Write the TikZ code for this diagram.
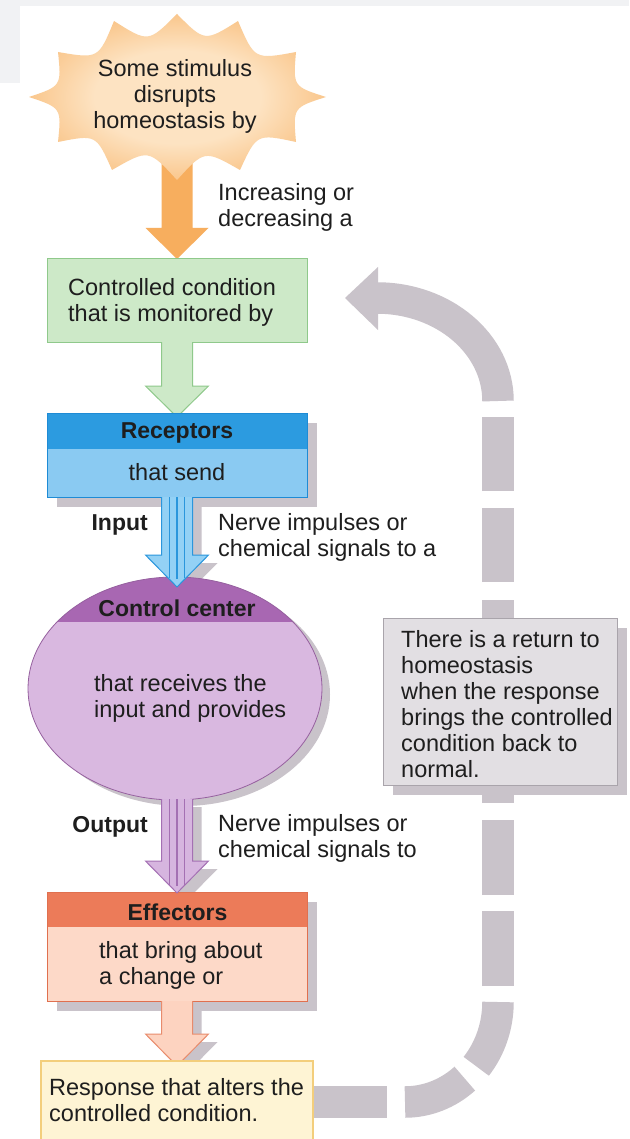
\documentclass[tikz,border=0pt]{standalone}
\usepackage{fontspec}
\setmainfont{Liberation Sans}
\usetikzlibrary{calc}
\definecolor{txtc}{HTML}{1E1E1E}
\definecolor{bgtint}{HTML}{F1F2F4}
\definecolor{shadowc}{HTML}{C9C3CA}
\definecolor{burstin}{HTML}{FDE3C2}
\definecolor{burstout}{HTML}{F5A044}
\definecolor{orangearr}{HTML}{F7AE5E}
\definecolor{greenfill}{HTML}{CDE9C8}
\definecolor{greenline}{HTML}{8FC98B}
\definecolor{rechead}{HTML}{2C9BE0}
\definecolor{recbody}{HTML}{8ACAF2}
\definecolor{recline}{HTML}{1E8BD5}
\definecolor{inarrfill}{HTML}{93D1F5}
\definecolor{inarrline}{HTML}{2A96DC}
\definecolor{cchead}{HTML}{A867B2}
\definecolor{ccbody}{HTML}{D9B8E0}
\definecolor{ccline}{HTML}{96619F}
\definecolor{outarrfill}{HTML}{D6B5DF}
\definecolor{outarrline}{HTML}{A470B3}
\definecolor{effhead}{HTML}{EC7B59}
\definecolor{effbody}{HTML}{FDD9C8}
\definecolor{effline}{HTML}{E0704F}
\definecolor{peachfill}{HTML}{FDD3C0}
\definecolor{peachline}{HTML}{E88B6C}
\definecolor{respfill}{HTML}{FEF4D4}
\definecolor{respline}{HTML}{F3CE7C}
\definecolor{notefill}{HTML}{E2DFE3}
\definecolor{noteline}{HTML}{A9A4AB}
\pgfdeclareradialshading{burstshade}{\pgfpoint{0bp}{0bp}}{color(0bp)=(burstin); color(14bp)=(burstin); color(40bp)=(burstout); color(50bp)=(burstout)}

% block arrow: top y, head y, tip y, fill, line
\newcommand\blkarrow[5]{%
  \fill[#4] (161.5,#1) -- (192.5,#1) -- (192.5,#2) -- (208.5,#2) -- (177,#3) -- (145.5,#2) -- (161.5,#2) -- cycle;
  \draw[#5, line width=1pt] (161.5,#1) -- (161.5,#2) -- (145.5,#2) -- (177,#3) -- (208.5,#2) -- (192.5,#2) -- (192.5,#1);}
\newcommand\blkshadow[3]{%
  \fill[shadowc, shift={(9,8)}] (161.5,#1) -- (192.5,#1) -- (192.5,#2) -- (208.5,#2) -- (177,#3) -- (145.5,#2) -- (161.5,#2) -- cycle;}

\tikzset{
  lbl/.style={font=\fontsize{23.5}{26}\selectfont, text=txtc, inner sep=0pt, align=left},
  lblb/.style={font=\fontsize{23}{26}\selectfont\bfseries, text=txtc, inner sep=0pt},
  band/.style={draw=shadowc, line width=31.5pt},
}

\begin{document}
\begin{tikzpicture}[x=1pt,y=-1pt]
\useasboundingbox (0,0) rectangle (629,1139);
\fill[white] (0,0) rectangle (629,1139);
\fill[bgtint] (0,0) rectangle (629,6);
\fill[bgtint] (0,0) rectangle (20,83);

% feedback loop (dashed grey band)
\begin{scope}[band]
  \draw (300,1102) -- (387,1102);
  \draw (405,1102) arc[start angle=90,end angle=50,x radius=93,y radius=100];
  \draw (498,1002) arc[start angle=0,end angle=40,x radius=93,y radius=100];
  \draw (498,986) -- (498,911);
  \draw (498,895) -- (498,820);
  \draw (498,803) -- (498,600);
  \draw (498,582) -- (498,508);
  \draw (498,491) -- (498,417);
  \draw (498,401) arc[start angle=0,end angle=-90,x radius=121,y radius=103];
\end{scope}
\fill[shadowc] (378,267) -- (345,298) -- (378,330) -- cycle;

% shadows
\fill[shadowc] (57,423) rectangle (317,507);
\blkshadow{497}{555}{587}
\fill[shadowc] (183,694.5) ellipse[x radius=147, y radius=111.5];
\fill[shadowc] (393,628) rectangle (627,795);
\blkshadow{799}{861}{893}
\fill[shadowc] (57,902) rectangle (317,1011);
\blkshadow{1001}{1034}{1066}

% stimulus
\fill[orangearr] (161.5,150) -- (192.5,150) -- (192.5,228) -- (208.5,228) -- (177,259) -- (145.5,228) -- (161.5,228) -- cycle;
\shade[shading=burstshade]
 (326,97) .. controls (293,86.5) .. (296,52)
 .. controls (254.6,59.7) .. (238,21)
 .. controls (204.7,41.9) .. (177,14)
 .. controls (148.3,42.7) .. (114,21)
 .. controls (98.4,58.9) .. (58,52)
 .. controls (61.5,86.1) .. (29,97)
 .. controls (61.5,107.9) .. (58,142)
 .. controls (96.2,134.4) .. (112,170)
 .. controls (148.5,149) .. (177,180)
 .. controls (204.5,149.8) .. (240,170)
 .. controls (256.8,133.6) .. (296,142)
 .. controls (293,107.5) .. (326,97) -- cycle;

% controlled condition
\filldraw[fill=greenfill, draw=greenline, line width=1pt] (47,259) rectangle (307,342);
\blkarrow{342}{386}{417}{greenfill}{greenline}

% receptors
\fill[recbody] (47,413) rectangle (307,497);
\fill[rechead] (47,413) rectangle (307,449);
\draw[recline, line width=1pt] (47,413) rectangle (307,497);

% control center
\begin{scope}
  \clip (175,688.5) ellipse[x radius=147, y radius=111.5];
  \fill[ccbody] (0,570) rectangle (400,810);
  \fill[cchead] (0,570) rectangle (400,622);
\end{scope}
\draw[ccline, line width=0.8pt] (175,688.5) ellipse[x radius=147, y radius=111.5];

% input arrow
\blkarrow{497}{555}{587}{inarrfill}{inarrline}
\draw[inarrline, line width=1.1pt] (169.5,497) -- (169.5,578) (177,497) -- (177,579) (184.5,497) -- (184.5,578);

% note box
\filldraw[fill=notefill, draw=noteline, line width=1pt] (383,618) rectangle (617,785);

% effectors
\fill[effbody] (47,892) rectangle (307,1001);
\fill[effhead] (47,892) rectangle (307,927);
\draw[effline, line width=1pt] (47,892) rectangle (307,1001);

% output arrow
\blkarrow{799}{861}{893}{outarrfill}{outarrline}
\draw[outarrline, line width=1.1pt] (169.5,799) -- (169.5,885) (177,799) -- (177,886) (184.5,799) -- (184.5,885);

% effector arrow and response
\blkarrow{1001}{1034}{1066}{peachfill}{peachline}
\filldraw[fill=respfill, draw=respline, line width=1.2pt] (41,1061) rectangle (313,1150);

% texts
\node[lbl, align=center] (stim) at (175,96) {Some stimulus\\disrupts\\homeostasis by};
\node[lbl, anchor=west] (incr) at (218,207) {Increasing or\\decreasing a};
\node[lbl, anchor=west] (condt) at (68,302) {Controlled condition\\that is monitored by};
\node[lblb] (rect) at (177,433.4) {Receptors};
\node[lbl] (recs) at (177,471.6) {that send};
\node[lblb, anchor=east] (inp) at (148,525.4) {Input};
\node[lbl, anchor=west] (nerve1) at (218,537.5) {Nerve impulses or\\chemical signals to a};
\node[lblb] (cct) at (177,608) {Control center};
\node[lbl, anchor=west] (ccs) at (94,698.5) {that receives the\\input and provides};
\node[lbl, anchor=west] (note) at (401,704) {There is a return to\\homeostasis\\when the response\\brings the controlled\\condition back to\\normal.};
\node[lblb, anchor=east] (outp) at (148,826.4) {Output};
\node[lbl, anchor=west] (nerve2) at (218,838.7) {Nerve impulses or\\chemical signals to};
\node[lblb] (efft) at (177.5,912) {Effectors};
\node[lbl, anchor=west] (effs) at (99,965.5) {that bring about\\a change or};
\node[lbl, anchor=west] (resp) at (49,1100) {Response that alters the\\controlled condition.};
\end{tikzpicture}
\end{document}
